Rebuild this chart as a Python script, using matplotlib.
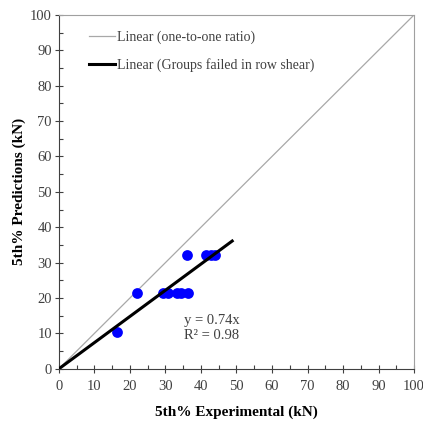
import matplotlib.pyplot as plt
import numpy as np

# datos
experimental = [16.3, 21.9, 29.3, 30.7, 33.4, 34.5, 36.4, 36.0, 41.4, 42.7, 44.0]
predicciones = [10.5, 21.4, 21.4, 21.4, 21.4, 21.4, 21.4, 32.2, 32.2, 32.2, 32.2]
pendiente = 0.74
x_ajuste = [0, 48.8]
x_uno = [0, 100]

plt.rcParams['font.family'] = ['Liberation Serif', 'DejaVu Serif']

fig = plt.figure(figsize=(4.23, 4.24), dpi=100)
ax = fig.add_axes([0.139, 0.13, 0.840, 0.835])

ax.plot(x_uno, x_uno, color='#a8a8a8', linewidth=0.9, label='Linear (one-to-one ratio)')
ax.scatter(experimental, predicciones, s=60, color='#0000ff', zorder=3, linewidths=0)
ax.plot(x_ajuste, [pendiente * v for v in x_ajuste], color='black', linewidth=2.2,
        label='Linear (Groups failed in row shear)', zorder=4)

ax.text(35.3, 15.6, 'y = 0.74x\nR² = 0.98', fontsize=10.5, va='top',
        color='#404040', linespacing=1.2)

ax.set_xlim(0, 100)
ax.set_ylim(0, 100)
ax.set_xticks(np.arange(0, 101, 10))
ax.set_yticks(np.arange(0, 101, 10))
ax.set_xticks(np.arange(0, 101, 5), minor=True)
ax.set_yticks(np.arange(0, 101, 5), minor=True)
ax.tick_params(which='major', direction='inout', length=6, width=0.8, color='#404040',
               labelsize=10.5, labelcolor='#404040', pad=2)
ax.tick_params(which='minor', direction='in', length=3, width=0.8, color='#404040')
ax.tick_params(axis='x', pad=5)

for lado in ['left', 'bottom']:
    ax.spines[lado].set_color('#404040')
for lado in ['right', 'top']:
    ax.spines[lado].set_color('#a0a0a0')

ax.set_xlabel('5th% Experimental (kN)', fontsize=11, fontweight='bold', labelpad=9)
ax.set_ylabel('5th% Predictions (kN)', fontsize=11, fontweight='bold', labelpad=3)

ax.legend(loc='upper left', bbox_to_anchor=(0.05, 0.99), frameon=False, fontsize=10,
          handlelength=1.9, handletextpad=0.1, labelspacing=1.0, labelcolor='#404040')

fig.savefig('out.png', dpi=100)
